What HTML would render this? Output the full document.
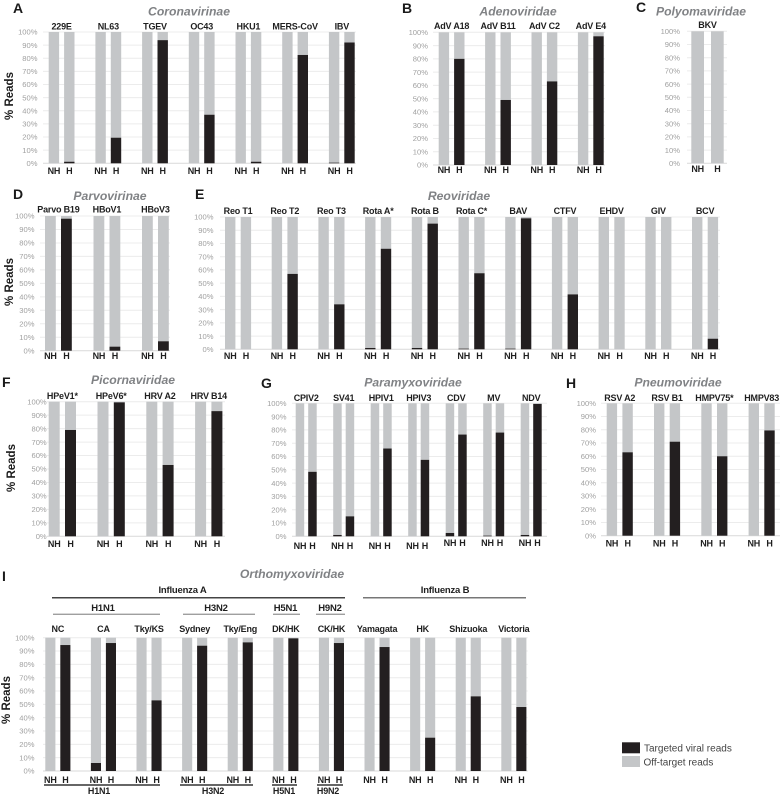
<!DOCTYPE html>
<html lang="en">
<head>
<meta charset="utf-8">
<title>Percent reads by virus family</title>
<style>
html,body{margin:0;padding:0;background:#fff;}
svg{display:block;font-family:"Liberation Sans",sans-serif;filter:blur(0.3px);}
.lab{font-weight:700;font-size:9px;letter-spacing:-0.2px;fill:#1f1f1f;text-anchor:middle;}
.tick{font-size:7.6px;fill:#a0a0a0;text-anchor:end;}
.title{font-weight:700;font-style:italic;font-size:12.2px;fill:#808285;text-anchor:middle;}
.letter{font-weight:700;font-size:14px;fill:#1a1a1a;}
.yt{font-weight:700;font-size:11.5px;fill:#1a1a1a;text-anchor:middle;}
.leg{font-size:10px;fill:#444;}
</style>
</head>
<body>
<svg id="chart" xmlns="http://www.w3.org/2000/svg" width="780" height="795" viewBox="0 0 780 795">
  <rect x="0" y="0" width="780" height="795" fill="#fff"/>

  <text class="letter" x="13" y="13">A</text>
  <text class="letter" x="402" y="13">B</text>
  <text class="letter" x="636" y="12">C</text>
  <text class="letter" x="13" y="199">D</text>
  <text class="letter" x="195" y="199">E</text>
  <text class="letter" x="2" y="387">F</text>
  <text class="letter" x="261" y="388">G</text>
  <text class="letter" x="566" y="388">H</text>
  <text class="letter" x="2" y="581">I</text>

  <text class="title" x="189" y="15.5">Coronavirinae</text>
  <text class="title" x="518" y="15.5">Adenoviridae</text>
  <text class="title" x="701" y="15.5">Polyomaviridae</text>
  <text class="title" x="110" y="200">Parvovirinae</text>
  <text class="title" x="459" y="200">Reoviridae</text>
  <text class="title" x="133" y="384">Picornaviridae</text>
  <text class="title" x="413" y="386.5">Paramyxoviridae</text>
  <text class="title" x="678" y="386.5">Pneumoviridae</text>
  <text class="title" x="292" y="578">Orthomyxoviridae</text>

  <text class="yt" transform="translate(13,96) rotate(-90)">% Reads</text>
  <text class="yt" transform="translate(13,282) rotate(-90)">% Reads</text>
  <text class="yt" transform="translate(15,468) rotate(-90)">% Reads</text>
  <text class="yt" transform="translate(10,700) rotate(-90)">% Reads</text>

  <g>
    <text class="lab" x="182.5" y="593" style="font-size:9.5px">Influenza A</text>
    <line x1="52" x2="345" y1="597.7" y2="597.7" stroke="#444" stroke-width="1.5"/>
    <text class="lab" x="445" y="593" style="font-size:9.5px">Influenza B</text>
    <line x1="363" x2="526" y1="597.7" y2="597.7" stroke="#777" stroke-width="1.5"/>
    <text class="lab" x="103" y="611" style="font-size:9.5px">H1N1</text>
    <line x1="53" x2="160" y1="614.2" y2="614.2" stroke="#666" stroke-width="0.8"/>
    <text class="lab" x="216" y="611" style="font-size:9.5px">H3N2</text>
    <line x1="183" x2="255" y1="614.2" y2="614.2" stroke="#666" stroke-width="0.8"/>
    <text class="lab" x="285.5" y="611" style="font-size:9.5px">H5N1</text>
    <line x1="273" x2="300" y1="614.2" y2="614.2" stroke="#666" stroke-width="0.8"/>
    <text class="lab" x="330" y="611" style="font-size:9.5px">H9N2</text>
    <line x1="316" x2="345" y1="614.2" y2="614.2" stroke="#666" stroke-width="0.8"/>
  </g>

  <g>
    <line x1="44" x2="160" y1="785" y2="785" stroke="#333" stroke-width="1.4"/>
    <line x1="180" x2="253" y1="785" y2="785" stroke="#333" stroke-width="1.4"/>
    <line x1="272" x2="297" y1="785" y2="785" stroke="#333" stroke-width="1.4"/>
    <line x1="317" x2="343" y1="785" y2="785" stroke="#333" stroke-width="1.4"/>
    <text class="lab" x="99" y="794">H1N1</text>
    <text class="lab" x="213" y="794">H3N2</text>
    <text class="lab" x="284" y="794">H5N1</text>
    <text class="lab" x="328" y="794">H9N2</text>
  </g>

  <g>
    <rect x="622" y="742.3" width="18" height="11" fill="#231f20"/>
    <text class="leg" x="644" y="751.5">Targeted viral reads</text>
    <rect x="622" y="756" width="18" height="11" fill="#c4c6c8"/>
    <text class="leg" x="643.5" y="765.5">Off-target reads</text>
  </g>

  <g id="panels"></g>
</svg>

<script>
// ---- Data ----
const tickValues = [0, 10, 20, 30, 40, 50, 60, 70, 80, 90, 100];

const coronaCategories = ["229E", "NL63", "TGEV", "OC43", "HKU1", "MERS-CoV", "IBV"];
const coronaNH = [0, 0, 0, 0, 0, 0, 0.5];
const coronaH = [1.2, 19.5, 93.8, 37, 1.2, 82.5, 92];

const adenoCategories = ["AdV A18", "AdV B11", "AdV C2", "AdV E4"];
const adenoNH = [0, 0, 0, 0];
const adenoH = [80, 49, 63, 97];

const polyomaCategories = ["BKV"];
const polyomaNH = [0];
const polyomaH = [0];

const parvoCategories = ["Parvo B19", "HBoV1", "HBoV3"];
const parvoNH = [0, 0, 0];
const parvoH = [98, 3, 7];

const reoCategories = ["Reo T1", "Reo T2", "Reo T3", "Rota A*", "Rota B", "Rota C*", "BAV", "CTFV", "EHDV", "GIV", "BCV"];
const reoNH = [0, 0, 0, 1, 1, 0.5, 0.5, 0, 0, 0, 0];
const reoH = [0, 57, 34, 76, 95, 57.5, 99, 41.5, 0, 0, 8];

const picornaCategories = ["HPeV1*", "HPeV6*", "HRV A2", "HRV B14"];
const picornaNH = [0, 0, 0, 0];
const picornaH = [79, 99.5, 53, 93];

const paramyxoCategories = ["CPIV2", "SV41", "HPIV1", "HPIV3", "CDV", "MV", "NDV"];
const paramyxoNH = [0, 1, 0, 0, 2.5, 0.5, 1];
const paramyxoH = [48.5, 15, 66, 57.5, 76.5, 78, 99.5];

const pneumoCategories = ["RSV A2", "RSV B1", "HMPV75*", "HMPV83"];
const pneumoNH = [0, 0, 0, 0];
const pneumoH = [63, 71, 60, 79.5];

const orthoCategories = ["NC", "CA", "Tky/KS", "Sydney", "Tky/Eng", "DK/HK", "CK/HK", "Yamagata", "HK", "Shizuoka", "Victoria"];
const orthoNH = [0, 6, 0, 0, 0, 0, 0, 0, 0, 0, 0];
const orthoH = [94.5, 96, 53, 94, 96.5, 99.5, 96, 93, 25, 56, 48];

// ---- Layout (separate from the data) ----
const panels = [
  {id:"a", cats:coronaCategories, nh:coronaNH, h:coronaH, x0:48.7, period:46.7, w:10.4, gap:5, top:32, bottom:163.3, left:43, right:356, tickX:37.5, catY:29.5, subY:174},
  {id:"b", cats:adenoCategories, nh:adenoNH, h:adenoH, x0:438.7, period:46.4, w:10.4, gap:5, top:32.3, bottom:165, left:433, right:605, tickX:428, catY:29, subY:173},
  {id:"c", cats:polyomaCategories, nh:polyomaNH, h:polyomaH, x0:691.3, period:46, w:12.7, gap:7, top:31.3, bottom:163.3, left:687, right:727, tickX:680, catY:28, subY:172},
  {id:"d", cats:parvoCategories, nh:parvoNH, h:parvoH, x0:45, period:48.5, w:10.8, gap:5.2, top:216, bottom:350.7, left:40, right:170, tickX:34.5, catY:212.7, subY:359},
  {id:"e", cats:reoCategories, nh:reoNH, h:reoH, x0:225, period:46.7, w:10.4, gap:5.3, top:217, bottom:349.3, left:220, right:720, tickX:213.5, catY:214, subY:359},
  {id:"f", cats:picornaCategories, nh:picornaNH, h:picornaH, x0:48.7, period:48.8, w:11, gap:5.3, top:401.7, bottom:536.3, left:47, right:225, tickX:46.7, catY:399, subY:547},
  {id:"g", cats:paramyxoCategories, nh:paramyxoNH, h:paramyxoH, x0:295.7, period:37.5, w:8.5, gap:4, top:403.3, bottom:536.3, left:292, right:547, tickX:286.5, catY:401, subY:549,
   subDy:[0, 0, 0, 0, -3, -3, -3]},
  {id:"h", cats:pneumoCategories, nh:pneumoNH, h:pneumoH, x0:606.7, period:47.3, w:10.4, gap:5.3, top:403.3, bottom:535.7, left:601, right:780, tickX:596, catY:401, subY:546.7},
  {id:"i", cats:orthoCategories, nh:orthoNH, h:orthoH, x0:45.3, period:45.6, w:10.1, gap:4.9, top:637.7, bottom:771, left:43, right:527.7, tickX:34.5, catY:632, subY:783}
];

const SVGNS = "http://www.w3.org/2000/svg";
const root = document.getElementById("panels");

function mk(parent, tag, attrs, txt) {
  const el = document.createElementNS(SVGNS, tag);
  for (const k in attrs) el.setAttribute(k, attrs[k]);
  if (txt !== undefined) el.textContent = txt;
  parent.appendChild(el);
  return el;
}
function slug(s) {
  return s.toLowerCase().replace(/[^a-z0-9]+/g, "-").replace(/-+$/, "");
}

panels.forEach(function (p) {
  const g = mk(root, "g", {});
  
  

  const yScale = function (v) { return p.bottom - (v / 100) * (p.bottom - p.top); };
  const xScale = function (groupIndex, barIndex) { return p.x0 + groupIndex * p.period + barIndex * (p.w + p.gap); };

  tickValues.forEach(function (t) {
    const line = mk(g, "line", {x1:p.left, x2:p.right, y1:yScale(t), y2:yScale(t), stroke:t === 0 ? "#d9d9d9" : "#ececec", "stroke-width":1});
    
    
    const lab = mk(g, "text", {x:p.tickX, y:yScale(t) + 2.7, "class":"tick"}, t + "%");
    
    
  });

  p.cats.forEach(function (cat, i) {
    const name = slug(cat);
    const groupCenter = xScale(i, 0) + p.w + p.gap / 2;
    const catText = mk(g, "text", {x:groupCenter, y:p.catY, "class":"lab"}, cat);
    
    

    [[p.nh[i], "NH", 0], [p.h[i], "H", 1]].forEach(function (b) {
      const value = b[0], series = b[1], idx = b[2];
      const x = xScale(i, idx);
      const off = mk(g, "rect", {x:x, y:yScale(100), width:p.w, height:yScale(value) - yScale(100), fill:"#c4c6c8"});
      
      
      if (value > 0) {
        const target = mk(g, "rect", {x:x, y:yScale(value), width:p.w, height:yScale(0) - yScale(value), fill:"#231f20"});
        
        
      }
      const dy = p.subDy ? p.subDy[i] : 0;
      const sub = mk(g, "text", {x:x + p.w / 2, y:p.subY + dy, "class":"lab"}, series);
      
      
    });
  });
});
</script>
</body>
</html>
